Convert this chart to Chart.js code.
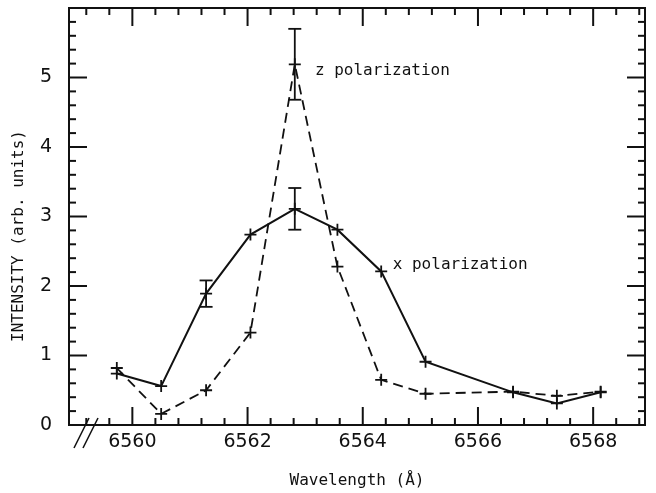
<!DOCTYPE html>
<html>
<head>
<meta charset="utf-8">
<script src="https://cdn.jsdelivr.net/npm/chart.js@4"></script>
<style>
  html, body { margin: 0; padding: 0; background: #fff; }
  #chart__wrap { width: 656px; height: 493px; }
</style>
</head>
<body>
<div id="chart__wrap"><canvas id="chart-canvas"></canvas></div>
<script>
// wavelength (A) of each measurement
const wavelengths = [6559.73, 6560.50, 6561.28, 6562.05, 6562.82, 6563.56, 6564.32, 6565.09, 6566.61, 6567.37, 6568.13];
// intensities, arb. units
const xPolarization = [0.74, 0.56, 1.89, 2.74, 3.11, 2.81, 2.21, 0.91, 0.47, 0.31, 0.47];
const zPolarization = [0.82, 0.16, 0.50, 1.33, 5.19, 2.28, 0.65, 0.45, 0.48, 0.42, 0.48];
// error bar half-heights (0 = none)
const xPolErr = [0, 0, 0.19, 0, 0.30, 0, 0, 0, 0, 0, 0];
const zPolErr = [0, 0, 0, 0, 0.51, 0, 0, 0, 0, 0, 0];

const xTickLabels = [6560, 6562, 6564, 6566, 6568];
const yTickLabels = [0, 1, 2, 3, 4, 5];

const INK = "#111";
const monoFont = "16px 'DejaVu Sans Mono'";

const toPoints = (ys) => wavelengths.map((w, i) => ({ x: w, y: ys[i] }));

const frameTicks = {
  id: "frameTicks",
  afterDraw(chart) {
    const { ctx, chartArea: a, scales: { x, y } } = chart;
    ctx.save();
    ctx.strokeStyle = INK;
    ctx.fillStyle = INK;
    ctx.lineWidth = 2;
    ctx.strokeRect(a.left, a.top, a.right - a.left, a.bottom - a.top);

    // inward ticks on all four sides
    const tick = (x1, y1, x2, y2) => { ctx.beginPath(); ctx.moveTo(x1, y1); ctx.lineTo(x2, y2); ctx.stroke(); };
    for (let k = 0; k <= 30; k++) {
      const v = Math.round(k * 2) / 10;
      const major = k % 5 === 0;
      const len = major ? 18 : 7;
      const py = y.getPixelForValue(v);
      tick(a.left, py, a.left + len, py);
      tick(a.right, py, a.right - len, py);
    }
    for (let k = 0; k <= 24; k++) {
      const v = 6559.2 + k * 0.4;
      const major = xTickLabels.some(t => Math.abs(t - v) < 1e-6);
      const len = major ? 18 : 7;
      const px = x.getPixelForValue(v);
      tick(px, a.bottom, px, a.bottom - len);
      tick(px, a.top, px, a.top + len);
    }

    // axis break marks
    ctx.lineWidth = 1.6;
    tick(a.left + 5, a.bottom + 23, a.left + 20, a.bottom - 7);
    tick(a.left + 14, a.bottom + 23, a.left + 29, a.bottom - 7);

    // error bars
    ctx.lineWidth = 1.8;
    const errs = [[xPolarization, xPolErr], [zPolarization, zPolErr]];
    for (const [vals, err] of errs) {
      wavelengths.forEach((w, i) => {
        if (!err[i]) return;
        const px = x.getPixelForValue(w);
        const hi = y.getPixelForValue(vals[i] + err[i]);
        const lo = y.getPixelForValue(vals[i] - err[i]);
        tick(px, hi, px, lo);
        tick(px - 6.5, hi, px + 6.5, hi);
        tick(px - 6.5, lo, px + 6.5, lo);
      });
    }

    // curve labels
    ctx.font = monoFont;
    ctx.textBaseline = "alphabetic";
    ctx.textAlign = "left";
    ctx.fillText("z polarization", x.getPixelForValue(6563.17), y.getPixelForValue(5.04));
    ctx.fillText("x polarization", x.getPixelForValue(6564.52), y.getPixelForValue(2.25));

    // y axis title
    ctx.translate(19, 236);
    ctx.rotate(-Math.PI / 2);
    ctx.textAlign = "center";
    ctx.textBaseline = "middle";
    ctx.fillText("INTENSITY (arb. units)", 0, 0);
    ctx.restore();
  },
};

const data = {
  datasets: [
    {
      label: "x polarization",
      data: toPoints(xPolarization),
      showLine: true,
      borderColor: INK,
      borderWidth: 2,
      pointStyle: "cross",
      pointRadius: 6,
      pointBorderWidth: 1.8,
      pointBorderColor: INK,
    },
    {
      label: "z polarization",
      data: toPoints(zPolarization),
      showLine: true,
      borderColor: INK,
      borderWidth: 1.8,
      borderDash: [10, 6],
      pointStyle: "cross",
      pointRadius: 6,
      pointBorderWidth: 1.8,
      pointBorderColor: INK,
    },
  ],
};

const config = {
  type: "scatter",
  data: data,
  options: {
    responsive: true,
    maintainAspectRatio: false,
    animation: false,
    layout: { padding: { top: 8, right: 11, left: 0, bottom: 0 } },
    plugins: { legend: { display: false }, tooltip: { enabled: false } },
    scales: {
      x: {
        type: "linear",
        min: 6558.9,
        max: 6568.9,
        grid: { display: false, drawTicks: false },
        border: { display: false },
        afterBuildTicks: (s) => { s.ticks = xTickLabels.map(v => ({ value: v })); },
        afterFit: (s) => { s.height = 68; s.paddingLeft = 0; s.paddingRight = 0; },
        ticks: {
          padding: 6,
          color: INK,
          font: { family: "'DejaVu Sans'", size: 19 },
          callback: (v) => String(v),
        },
        title: {
          display: true,
          text: "Wavelength (Å)",
          color: INK,
          font: { family: "'DejaVu Sans Mono'", size: 16 },
          padding: { top: 0, bottom: 3 },
        },
      },
      y: {
        min: 0,
        max: 6,
        grid: { display: false, drawTicks: false },
        border: { display: false },
        afterBuildTicks: (s) => { s.ticks = yTickLabels.map(v => ({ value: v })); },
        afterFit: (s) => { s.width = 69; s.paddingTop = 0; s.paddingBottom = 0; },
        ticks: {
          padding: 17,
          color: INK,
          font: { family: "'DejaVu Sans'", size: 19 },
        },
      },
    },
  },
  plugins: [frameTicks],
};

const myChart = new Chart(document.getElementById("chart-canvas"), config);
</script>
</body>
</html>
